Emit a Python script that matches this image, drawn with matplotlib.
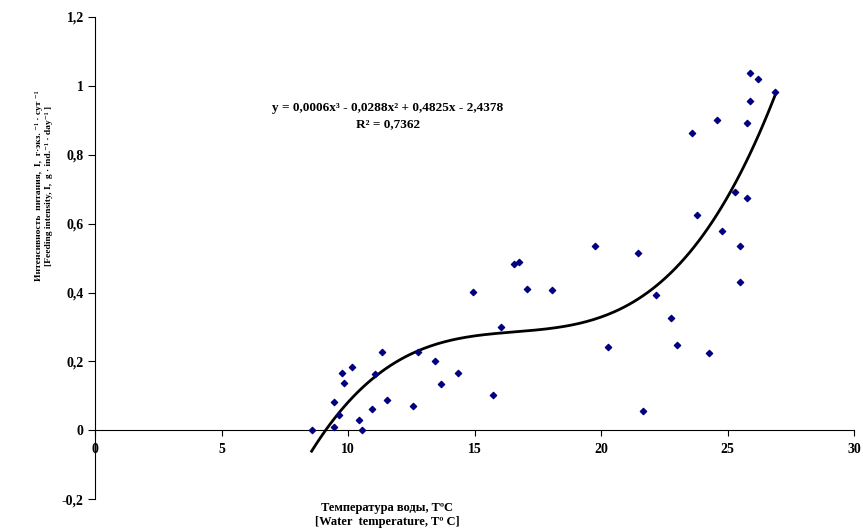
import numpy as np
import matplotlib.pyplot as plt

plt.rcParams['font.family'] = ['Liberation Serif', 'DejaVu Serif']
plt.rcParams['font.weight'] = 'bold'

# температура воды, °C
temp = [8.56, 9.43, 9.43, 9.64, 9.75, 9.84, 10.16, 10.45, 10.54, 10.94,
        11.05, 11.34, 11.54, 12.56, 12.75, 13.45, 13.66, 14.36, 14.95, 15.74,
        16.06, 16.55, 16.76, 17.06, 18.06, 19.76, 20.28, 21.47, 21.66, 22.17,
        22.77, 22.98, 23.57, 23.78, 24.27, 24.56, 24.78, 25.28, 25.48, 25.48,
        25.77, 25.77, 25.87, 25.87, 26.18, 26.88]
# интенсивность питания
intensity = [0.0, 0.01, 0.081, 0.044, 0.166, 0.137, 0.185, 0.031, 0.0, 0.061,
             0.164, 0.226, 0.089, 0.071, 0.226, 0.2, 0.133, 0.166, 0.402, 0.102,
             0.301, 0.483, 0.49, 0.41, 0.407, 0.536, 0.242, 0.516, 0.055, 0.393,
             0.326, 0.247, 0.864, 0.624, 0.225, 0.9, 0.578, 0.693, 0.534, 0.431,
             0.674, 0.892, 0.957, 1.036, 1.019, 0.983]

xticks = [0, 5, 10, 15, 20, 25, 30]
yticks = [-0.2, 0, 0.2, 0.4, 0.6, 0.8, 1.0, 1.2]
ytick_labels = ['-0,2', '0', '0,2', '0,4', '0,6', '0,8', '1', '1,2']

fig = plt.figure(figsize=(8.63, 5.31), dpi=100)
ax = fig.add_axes([0.110, 0.060, 0.880, 0.908])

# полиномиальный тренд 3-й степени
coef = np.polyfit(temp, intensity, 3)
xs = np.linspace(min(temp), max(temp), 200)
ax.plot(xs, np.polyval(coef, xs), color='black', lw=2, zorder=2)

ax.scatter(temp, intensity, marker='D', s=10, color='#000080', zorder=3)

ax.set_xlim(0, 30)
ax.set_ylim(-0.2, 1.2)
ax.spines['top'].set_visible(False)
ax.spines['right'].set_visible(False)
ax.spines['bottom'].set_position(('data', 0))

ax.set_xticks(xticks)
ax.set_xticklabels([str(t) for t in xticks], fontsize=10, fontweight='bold')
ax.set_yticks(yticks)
ax.set_yticklabels(ytick_labels, fontsize=10, fontweight='bold')
ax.tick_params(axis='x', direction='out', length=4, pad=5)
ax.tick_params(axis='y', direction='out', length=5, pad=3)

ax.text(11.58, 0.935, 'y = 0,0006x³ - 0,0288x² + 0,4825x - 2,4378',
        ha='center', va='center', fontsize=9.5, fontweight='bold')
ax.text(11.58, 0.888, 'R² = 0,7362', ha='center', va='center',
        fontsize=9.5, fontweight='bold')

fig.text(0.449, 0.044, 'Температура воды, TºC', ha='center', va='center',
         fontsize=9, fontweight='bold')
fig.text(0.449, 0.017, '[Water  temperature, Tº C]', ha='center', va='center',
         fontsize=9, fontweight='bold')

fig.text(0.051, 0.650,
         'Интенсивность  питания,  I,  г·экз. ⁻¹ · сут ⁻¹\n'
         '[Feeding intensity, I,  g · ind.⁻¹ · day⁻¹ ]',
         rotation=90, ha='center', va='center', fontsize=6.8,
         fontweight='bold', linespacing=1.3, multialignment='center')

fig.savefig('out.png', dpi=100)
